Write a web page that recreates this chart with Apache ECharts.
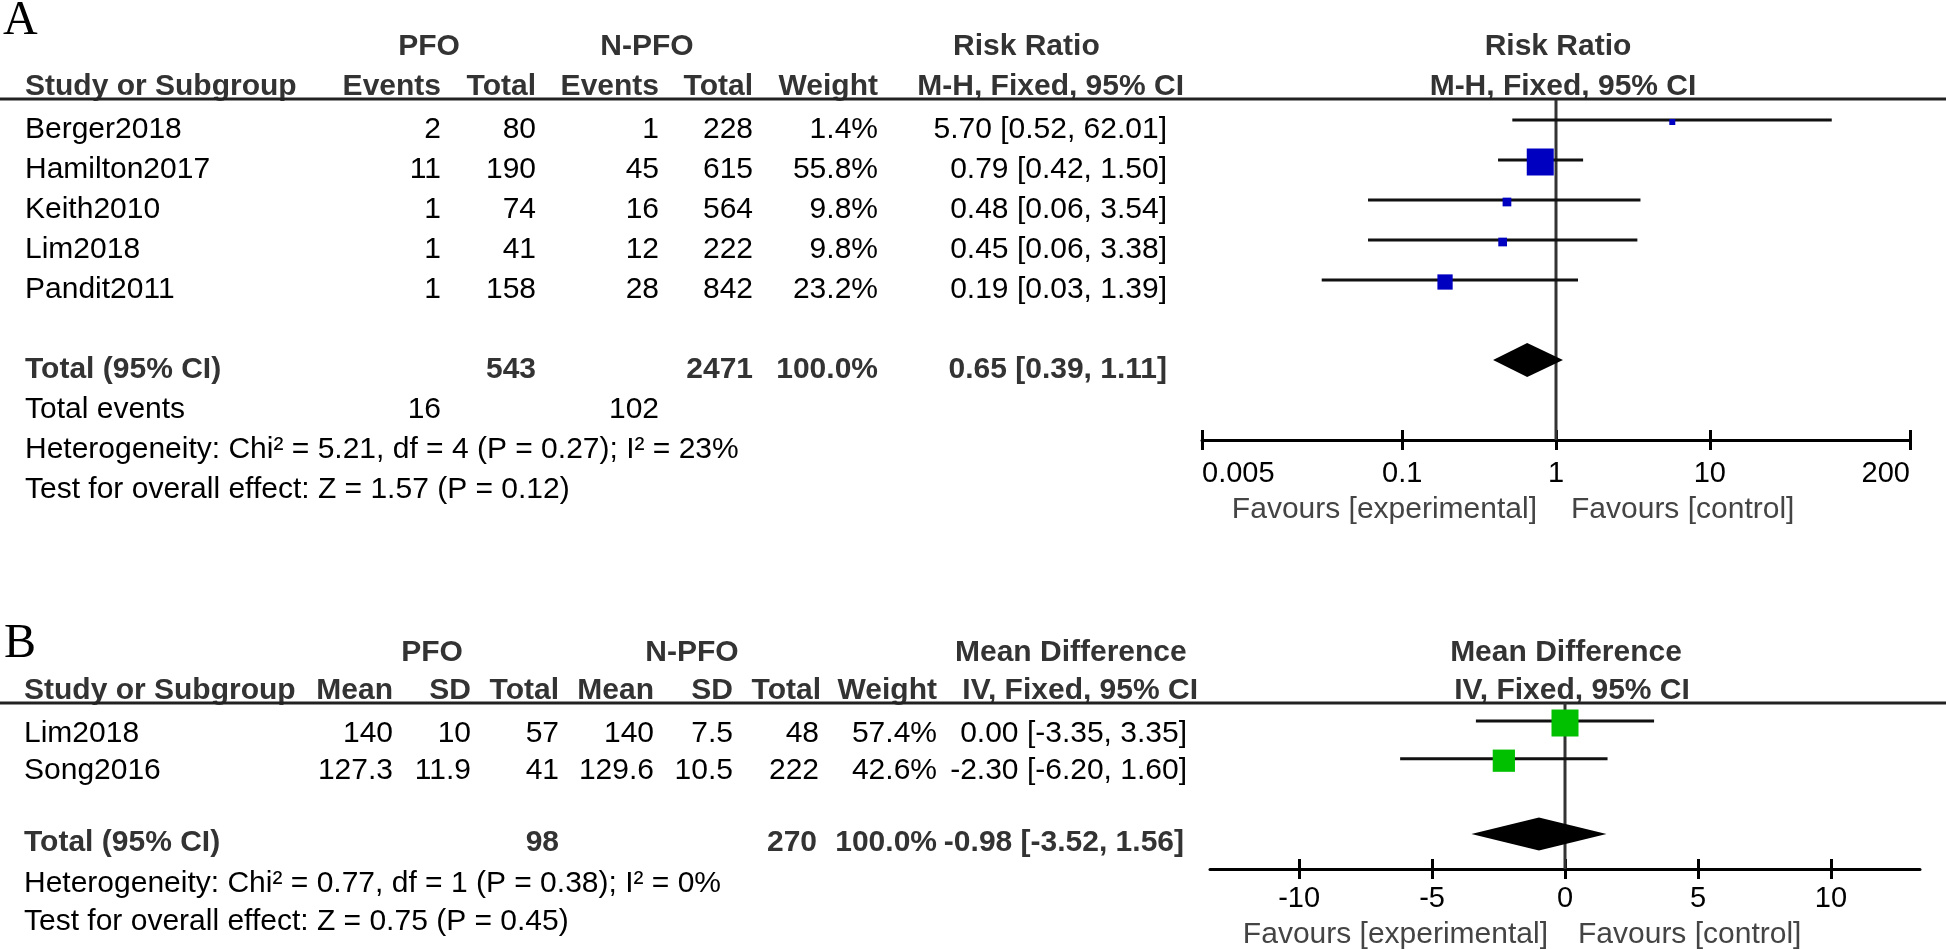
<!DOCTYPE html>
<html><head><meta charset="utf-8">
<script src="https://cdn.jsdelivr.net/npm/echarts@6/dist/echarts.min.js"></script>
<style>html,body{margin:0;padding:0;background:#fff}#c{width:1946px;height:950px}</style>
</head><body><div id="c"></div>
<script>
// ---------------- Panel A data (Risk Ratio) ----------------
const studiesA = ['Berger2018', 'Hamilton2017', 'Keith2010', 'Lim2018', 'Pandit2011'];
const pfoEventsA = [2, 11, 1, 1, 1];
const pfoTotalA = [80, 190, 74, 41, 158];
const npfoEventsA = [1, 45, 16, 12, 28];
const npfoTotalA = [228, 615, 564, 222, 842];
const weightA = [1.4, 55.8, 9.8, 9.8, 23.2];
const rrA = [5.70, 0.79, 0.48, 0.45, 0.19];
const rrLowA = [0.52, 0.42, 0.06, 0.06, 0.03];
const rrHighA = [62.01, 1.50, 3.54, 3.38, 1.39];
const totalRRA = [0.65, 0.39, 1.11];          // estimate, low, high
const totalNA = [543, 2471];                   // PFO total, N-PFO total
const totalEventsA = [16, 102];
const hetA = ['5.21', '4', '0.27', '23'];      // Chi², df, P, I²
const overallA = ['1.57', '0.12'];             // Z, P
const ticksA = [0.005, 0.1, 1, 10, 200];

// ---------------- Panel B data (Mean Difference) ----------------
const studiesB = ['Lim2018', 'Song2016'];
const pfoMeanB = ['140', '127.3'];
const pfoSDB = ['10', '11.9'];
const pfoNB = [57, 41];
const npfoMeanB = ['140', '129.6'];
const npfoSDB = ['7.5', '10.5'];
const npfoNB = [48, 222];
const weightB = [57.4, 42.6];
const mdB = [0.00, -2.30];
const mdLowB = [-3.35, -6.20];
const mdHighB = [3.35, 1.60];
const totalMDB = [-0.98, -3.52, 1.56];
const totalNB = [98, 270];
const hetB = ['0.77', '1', '0.38', '0'];
const overallB = ['0.75', '0.45'];
const ticksB = [-10, -5, 0, 5, 10];

// ---------------- layout ----------------
const FF = '"Liberation Sans", Arial, sans-serif';
const FS = 30;
const LA = { head1: 47, head2: 87, line: 99, row0: 130, step: 40, total: 370, events: 410, het: 450, test: 490, fav: 510,
  study: 25, c1: 441, c2: 536, c3: 659, c4: 753, c5: 878, eff: 1167, effHead: 1184, effTitle: 953,
  pfo: 429, npfo: 647, f1: 1558, f2: 1563, favL: 1537, favR: 1571 };
const LB = { head1: 653, head2: 691, line: 703, rows: [734, 771], total: 843, het: 884, test: 922, fav: 935,
  study: 24, c1: 393, c2: 471, c3: 559, c4: 654, c5: 733, c6: 819, c7: 937, eff: 1187, effHead: 1198, effTitle: 955,
  pfo: 432, npfo: 692, f1: 1566, f2: 1572, favL: 1548, favR: 1578 };

const els = [];
function t(x, y, s, align, opt) {
  opt = opt || {};
  els.push({ type: 'text', x: x, y: y, silent: true,
    style: { text: String(s), fontSize: opt.size || FS, fontFamily: opt.family || FF, fontWeight: opt.bold ? 'bold' : 'normal',
      fill: opt.color || (opt.bold ? '#333' : '#000'), align: align, textAlign: align, verticalAlign: 'middle', textVerticalAlign: 'middle' } });
}
function hline(y) {
  els.push({ type: 'line', silent: true, shape: { x1: 0, y1: y, x2: 1946, y2: y }, style: { stroke: '#222', lineWidth: 3 } });
}
const f2 = v => v.toFixed(2);
const ci = (e, l, h) => f2(e) + ' [' + f2(l) + ', ' + f2(h) + ']';

// ----- Panel A table -----
t(3, 21, 'A', 'left', { size: 48, family: '"Liberation Serif", "Times New Roman", serif' });
const B = { bold: true };
t(LA.pfo, LA.head1, 'PFO', 'center', B);
t(LA.npfo, LA.head1, 'N-PFO', 'center', B);
t(LA.effTitle, LA.head1, 'Risk Ratio', 'left', B);
t(LA.f1, LA.head1, 'Risk Ratio', 'center', B);
t(LA.study, LA.head2, 'Study or Subgroup', 'left', B);
t(LA.c1, LA.head2, 'Events', 'right', B);
t(LA.c2, LA.head2, 'Total', 'right', B);
t(LA.c3, LA.head2, 'Events', 'right', B);
t(LA.c4, LA.head2, 'Total', 'right', B);
t(LA.c5, LA.head2, 'Weight', 'right', B);
t(LA.effHead, LA.head2, 'M-H, Fixed, 95% CI', 'right', B);
t(LA.f2, LA.head2, 'M-H, Fixed, 95% CI', 'center', B);
hline(LA.line);
studiesA.forEach((s, i) => {
  const y = LA.row0 + i * LA.step;
  t(LA.study, y, s, 'left');
  t(LA.c1, y, pfoEventsA[i], 'right');
  t(LA.c2, y, pfoTotalA[i], 'right');
  t(LA.c3, y, npfoEventsA[i], 'right');
  t(LA.c4, y, npfoTotalA[i], 'right');
  t(LA.c5, y, weightA[i].toFixed(1) + '%', 'right');
  t(LA.eff, y, ci(rrA[i], rrLowA[i], rrHighA[i]), 'right');
});
t(LA.study, LA.total, 'Total (95% CI)', 'left', B);
t(LA.c2, LA.total, totalNA[0], 'right', B);
t(LA.c4, LA.total, totalNA[1], 'right', B);
t(LA.c5, LA.total, '100.0%', 'right', B);
t(LA.eff, LA.total, ci(totalRRA[0], totalRRA[1], totalRRA[2]), 'right', B);
t(LA.study, LA.events, 'Total events', 'left');
t(LA.c1, LA.events, totalEventsA[0], 'right');
t(LA.c3, LA.events, totalEventsA[1], 'right');
t(LA.study, LA.het, 'Heterogeneity: Chi\u00b2 = ' + hetA[0] + ', df = ' + hetA[1] + ' (P = ' + hetA[2] + '); I\u00b2 = ' + hetA[3] + '%', 'left');
t(LA.study, LA.test, 'Test for overall effect: Z = ' + overallA[0] + ' (P = ' + overallA[1] + ')', 'left');
t(LA.favL, LA.fav, 'Favours [experimental]', 'right', { color: '#444' });
t(LA.favR, LA.fav, 'Favours [control]', 'left', { color: '#444' });

// ----- Panel B table -----
t(4, 644, 'B', 'left', { size: 48, family: '"Liberation Serif", "Times New Roman", serif' });
t(LB.pfo, LB.head1, 'PFO', 'center', B);
t(LB.npfo, LB.head1, 'N-PFO', 'center', B);
t(LB.effTitle, LB.head1, 'Mean Difference', 'left', B);
t(LB.f1, LB.head1, 'Mean Difference', 'center', B);
t(LB.study, LB.head2, 'Study or Subgroup', 'left', B);
t(LB.c1, LB.head2, 'Mean', 'right', B);
t(LB.c2, LB.head2, 'SD', 'right', B);
t(LB.c3, LB.head2, 'Total', 'right', B);
t(LB.c4, LB.head2, 'Mean', 'right', B);
t(LB.c5, LB.head2, 'SD', 'right', B);
t(LB.c6 + 2, LB.head2, 'Total', 'right', B);
t(LB.c7, LB.head2, 'Weight', 'right', B);
t(LB.effHead, LB.head2, 'IV, Fixed, 95% CI', 'right', B);
t(LB.f2, LB.head2, 'IV, Fixed, 95% CI', 'center', B);
hline(LB.line);
studiesB.forEach((s, i) => {
  const y = LB.rows[i];
  t(LB.study, y, s, 'left');
  t(LB.c1, y, pfoMeanB[i], 'right');
  t(LB.c2, y, pfoSDB[i], 'right');
  t(LB.c3, y, pfoNB[i], 'right');
  t(LB.c4, y, npfoMeanB[i], 'right');
  t(LB.c5, y, npfoSDB[i], 'right');
  t(LB.c6, y, npfoNB[i], 'right');
  t(LB.c7, y, weightB[i].toFixed(1) + '%', 'right');
  t(LB.eff, y, ci(mdB[i], mdLowB[i], mdHighB[i]), 'right');
});
t(LB.study, LB.total, 'Total (95% CI)', 'left', B);
t(LB.c3, LB.total, totalNB[0], 'right', B);
t(LB.c6 - 2, LB.total, totalNB[1], 'right', B);
t(LB.c7, LB.total, '100.0%', 'right', B);
t(LB.eff - 3, LB.total, ci(totalMDB[0], totalMDB[1], totalMDB[2]), 'right', B);
t(LB.study, LB.het, 'Heterogeneity: Chi\u00b2 = ' + hetB[0] + ', df = ' + hetB[1] + ' (P = ' + hetB[2] + '); I\u00b2 = ' + hetB[3] + '%', 'left');
t(LB.study, LB.test, 'Test for overall effect: Z = ' + overallB[0] + ' (P = ' + overallB[1] + ')', 'left');
t(LB.favL, LB.fav, 'Favours [experimental]', 'right', { color: '#444' });
t(LB.favR, LB.fav, 'Favours [control]', 'left', { color: '#444' });

// ---------------- forest plot rendering ----------------
function studyRender(color, wmax) {
  return function (params, api) {
    const lo = api.coord([api.value(0), api.value(3)]);
    const hi = api.coord([api.value(1), api.value(3)]);
    const es = api.coord([api.value(2), api.value(3)]);
    const size = Math.max(6, 27 * Math.pow(api.value(4) / wmax, 0.65));
    return { type: 'group', children: [
      { type: 'line', shape: { x1: lo[0], y1: lo[1], x2: hi[0], y2: hi[1] }, style: { stroke: '#111', lineWidth: 3 } },
      { type: 'rect', shape: { x: es[0] - size / 2, y: es[1] - size / 2 + 2, width: size, height: size }, style: { fill: color } }
    ] };
  };
}
function diamondRender(h) {
  return function (params, api) {
    const es = api.coord([api.value(0), api.value(3)]);
    const lo = api.coord([api.value(1), api.value(3)]);
    const hi = api.coord([api.value(2), api.value(3)]);
    return { type: 'polygon', shape: { points: [[lo[0], lo[1]], [es[0], es[1] - h / 2], [hi[0], hi[1]], [es[0], es[1] + h / 2]] }, style: { fill: '#000' } };
  };
}
const fmtTick = v => String(+(+v).toPrecision(4));
function xAx(grid, type, min, max, ticks, inside) {
  const ax = { gridIndex: grid, type: type, position: 'bottom', min: min, max: max, splitLine: { show: false }, minorTick: { show: false },
    axisTick: { show: true, inside: inside, customValues: ticks, length: 10, lineStyle: { color: '#000', width: 3 } } };
  if (type === 'log') ax.logBase = 10;
  if (inside) {
    ax.axisLine = { show: false, onZero: false };
    ax.axisLabel = { show: false };
  } else {
    ax.axisLine = { show: true, onZero: false, lineStyle: { color: '#000', width: 3 } };
    ax.axisLabel = { show: true, customValues: ticks, formatter: fmtTick, fontSize: 29, fontFamily: FF, color: '#000', margin: grid === 0 ? 19 : 15 };
    if (type === 'log') { ax.axisLabel.alignMinLabel = 'left'; ax.axisLabel.alignMaxLabel = 'right'; }
  }
  return ax;
}
const yA = [-0.5, 8], yBr = [-0.4775, 3.926];
const option = {
  animation: false,
  backgroundColor: '#fff',
  grid: [
    { left: 1202, width: 708, top: 100, height: 340 },
    { left: 1210, width: 710, top: 703, height: 166 }
  ],
  xAxis: [
    xAx(0, 'log', 0.005, 200, ticksA, false),
    xAx(0, 'log', 0.005, 200, ticksA, true),
    xAx(1, 'value', -13.35, 13.35, ticksB, false),
    xAx(1, 'value', -13.35, 13.35, ticksB, true)
  ],
  yAxis: [
    { gridIndex: 0, type: 'value', min: yA[0], max: yA[1], inverse: true, show: false },
    { gridIndex: 1, type: 'value', min: yBr[0], max: yBr[1], inverse: true, show: false }
  ],
  series: [
    { type: 'line', xAxisIndex: 0, yAxisIndex: 0, data: [[1, yA[0]], [1, yA[1]]], symbol: 'none', silent: true, z: 1,
      lineStyle: { color: '#333', width: 3 } },
    { type: 'custom', xAxisIndex: 0, yAxisIndex: 0, z: 3, silent: true,
      data: studiesA.map((s, i) => [rrLowA[i], rrHighA[i], rrA[i], i, weightA[i]]),
      encode: { x: [0, 1, 2], y: 3 }, renderItem: studyRender('#0000C0', Math.max(...weightA)) },
    { type: 'custom', xAxisIndex: 0, yAxisIndex: 0, z: 3, silent: true,
      data: [[totalRRA[0], totalRRA[1], totalRRA[2], studiesA.length + 1]],
      encode: { x: [0, 1, 2], y: 3 }, renderItem: diamondRender(34) },
    { type: 'line', xAxisIndex: 2, yAxisIndex: 1, data: [[0, yBr[0]], [0, yBr[1]]], symbol: 'none', silent: true, z: 1,
      lineStyle: { color: '#333', width: 3 } },
    { type: 'custom', xAxisIndex: 2, yAxisIndex: 1, z: 3, silent: true,
      data: studiesB.map((s, i) => [mdLowB[i], mdHighB[i], mdB[i], i, weightB[i]]),
      encode: { x: [0, 1, 2], y: 3 }, renderItem: studyRender('#00C000', Math.max(...weightB)) },
    { type: 'custom', xAxisIndex: 2, yAxisIndex: 1, z: 3, silent: true,
      data: [[totalMDB[0], totalMDB[1], totalMDB[2], studiesB.length + 1]],
      encode: { x: [0, 1, 2], y: 3 }, renderItem: diamondRender(33) }
  ],
  graphic: { elements: els }
};
const chart = echarts.init(document.getElementById('c'), null, { renderer: 'canvas' });
chart.setOption(option);
</script>
</body></html>
